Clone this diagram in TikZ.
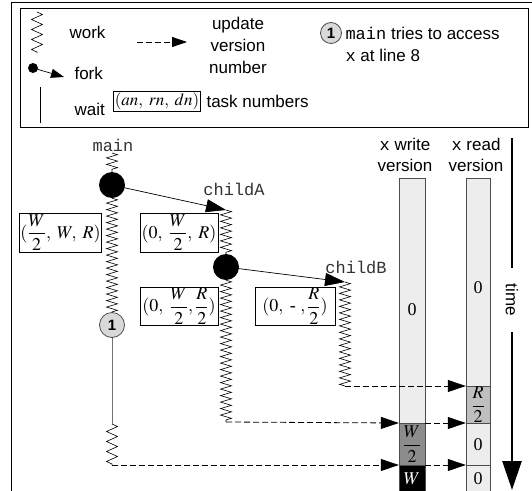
\documentclass[tikz,border=0pt]{standalone}
\usepackage{amsmath}
\usepackage{mathptmx}
\usepackage[no-math]{fontspec}
\setmainfont{Liberation Serif}
\setsansfont{Liberation Sans}
\setmonofont{Liberation Mono}
\usetikzlibrary{arrows.meta,decorations.pathmorphing}
\newcommand\sanssz{\sffamily\fontsize{17}{21}\selectfont}
\newcommand\monosz{\ttfamily\fontsize{17}{21}\selectfont}
\newcommand\serifsz{\rmfamily\fontsize{18}{21}\selectfont}
\tikzset{
  zz/.style={decorate,decoration={zigzag,segment length=6.5pt,amplitude=5.5pt},line width=0.6pt},
  zzl/.style={decorate,decoration={zigzag,segment length=10pt,amplitude=5.5pt},line width=0.6pt},
  upd/.style={line width=0.8pt,dash pattern=on 6pt off 3pt,-{Triangle[length=18pt,width=12pt]}},
  updl/.style={line width=0.8pt,dash pattern=on 6pt off 3pt,-{Triangle[length=15pt,width=10pt]}},
  forkarr/.style={line width=0.7pt,-{Triangle[length=20pt,width=13pt]}},
  task/.style={draw,inner sep=1pt,font=\serifsz},
  lbl/.style={font=\sanssz},
  thr/.style={font=\monosz,text=black!80},
  onec/.style={circle,draw=black!70,line width=0.8pt,fill=black!15,minimum size=22pt,inner sep=0pt,font=\sffamily\bfseries\fontsize{15}{15}\selectfont},
  cell/.style={draw=black!70,minimum width=26pt,inner sep=0pt,font=\serifsz},
  dotc/.style={circle,fill=black,minimum size=26pt,inner sep=0pt},
}
\begin{document}
\begin{tikzpicture}[x=1pt,y=-1pt]
\useasboundingbox (0,0) rectangle (532,490);
% frames
\draw[line width=0.8pt] (11,491) -- (11,2) -- (533,2);
\draw[line width=0.8pt] (20,8) rectangle (528,127);
% ---------- legend ----------
\coordinate (lz1) at (37,12); \coordinate (lz2) at (37,53);
\draw[zzl] (lz1) -- (lz2);
\node[lbl,anchor=west] (lwork) at (66,32) {work};
\coordinate (lf1) at (33,68); \coordinate (lf2) at (64,77);
\fill (lf1) circle (5pt);
\draw[line width=0.7pt,-{Triangle[length=13pt,width=9pt]}] (lf1) -- (lf2);
\node[lbl,anchor=west] (lfork) at (71,73) {fork};
\coordinate (lw1) at (40,87); \coordinate (lw2) at (40,123);
\draw[line width=0.7pt] (lw1) -- (lw2);
\node[lbl,anchor=west] (lwait) at (71,109) {wait};
\coordinate (ld1) at (137,42); \coordinate (ld2) at (187,42);
\draw[updl] (ld1) -- (ld2);
\node[lbl,align=center,font=\sffamily\fontsize{17}{22}\selectfont] (lupd) at (238,45) {update\\version\\number};
\node[task,inner sep=1.5pt,font=\rmfamily\fontsize{17}{21}\selectfont] (ltask) at (157,101) {$(an,\;rn,\;dn)$};
\node[lbl,anchor=west] (ltn) at (203,101) {task numbers};
\node[onec,minimum size=21pt] (l1) at (331,33) {1};
\node[anchor=west,align=left,font=\sffamily\fontsize{17}{22}\selectfont] (lmain) at (342,44) {\texttt{main} tries to access\\\texttt{x} at line 8};
% ---------- main thread ----------
\node[thr] (tmain) at (113,145) {main};
\coordinate (m0) at (112,153);
\node[dotc] (md) at (112,185) {};
\node[onec,minimum size=25pt] (m1) at (112,325) {1};
\coordinate (m3) at (112,424);
\coordinate (m4) at (112,465);
\draw[zz] (m0) -- (md.north);
\draw[zz] (md.south) -- (m1.north);
\draw[black!55,line width=0.9pt] (m1.south) -- (m3);
\draw[zzl] (m3) -- (m4);
% ---------- childA ----------
\node[thr] (tA) at (234,189) {childA};
\coordinate (a0) at (226,210);
\node[dotc] (ad) at (226,267) {};
\coordinate (a2) at (226,422);
\draw[zz] (a0) -- (ad.north);
\draw[zz] (ad.south) -- (a2);
\draw[forkarr] (md.center) -- (a0);
% ---------- childB ----------
\node[thr] (tB) at (356,267) {childB};
\coordinate (b0) at (345,282);
\coordinate (b2) at (345,386);
\draw[zz] (b0) -- (b2);
\draw[forkarr] (ad.center) -- (b0);
% ---------- task boxes ----------
\node[task,minimum width=79pt,minimum height=39pt] (t1) at (60.5,232.5) {$(\dfrac{W}{2},\;W,\;R)$};
\node[task,minimum width=78pt,minimum height=39pt] (t2) at (179,232.5) {$(0,\;\dfrac{W}{2},\;R)$};
\node[task,minimum width=78pt,minimum height=38pt] (t3) at (179,306) {$(0,\;\dfrac{W}{2}, \dfrac{R}{2})$};
\node[task,minimum width=80pt,minimum height=38pt] (t4) at (295,306) {$(0,\ \mbox{-}\ , \dfrac{R}{2})$};
% ---------- version columns ----------
\node[lbl,align=center] (hw) at (405,155) {\texttt{x} write\\version};
\node[lbl,align=center] (hr) at (476,155) {\texttt{x} read\\version};
% write column
\node[cell,fill=black!7,minimum height=245pt,anchor=north] (w0) at (412,178) {};
\node[font=\serifsz] at (412,310) {0};
\node[cell,fill=black!45,minimum height=42pt,anchor=north] (w1) at (412,423) {$\dfrac{W}{2}$};
\node[cell,fill=black,minimum height=27pt,anchor=north,text=white] (w2) at (412,465) {$W$};
% read column
\node[cell,fill=black!7,minimum width=24pt,minimum height=208pt,anchor=north] (r0) at (478,178) {};
\node[font=\serifsz] at (478,288) {0};
\node[cell,fill=black!25,minimum width=24pt,minimum height=37pt,anchor=north] (r1) at (478,386) {$\dfrac{R}{2}$};
\node[cell,fill=black!7,minimum width=24pt,minimum height=42pt,anchor=north] (r2) at (478,423) {0};
\node[cell,fill=black!7,minimum width=24pt,minimum height=27pt,anchor=north] (r3) at (478,465) {0};
% ---------- update arrows ----------
\draw[upd] (b2) -- (r1.north west);
\draw[upd] (a2) -- (w1.north west);
\draw[upd] (w1.north east) -- (r2.north west);
\draw[upd] (m4) -- (w2.north west);
\draw[upd] (w2.north east) -- (r3.north west);
% ---------- time ----------
\coordinate (ti0) at (512,138); \coordinate (ti1) at (512,268);
\coordinate (ti2) at (512,332); \coordinate (ti3) at (512,490);
\draw[line width=2.5pt] (ti0) -- (ti1);
\node[lbl,rotate=-90] (time) at (512,300) {time};
\draw[line width=2.5pt,-{Triangle[length=29pt,width=19pt]}] (ti2) -- (ti3);
\end{tikzpicture}
\end{document}
